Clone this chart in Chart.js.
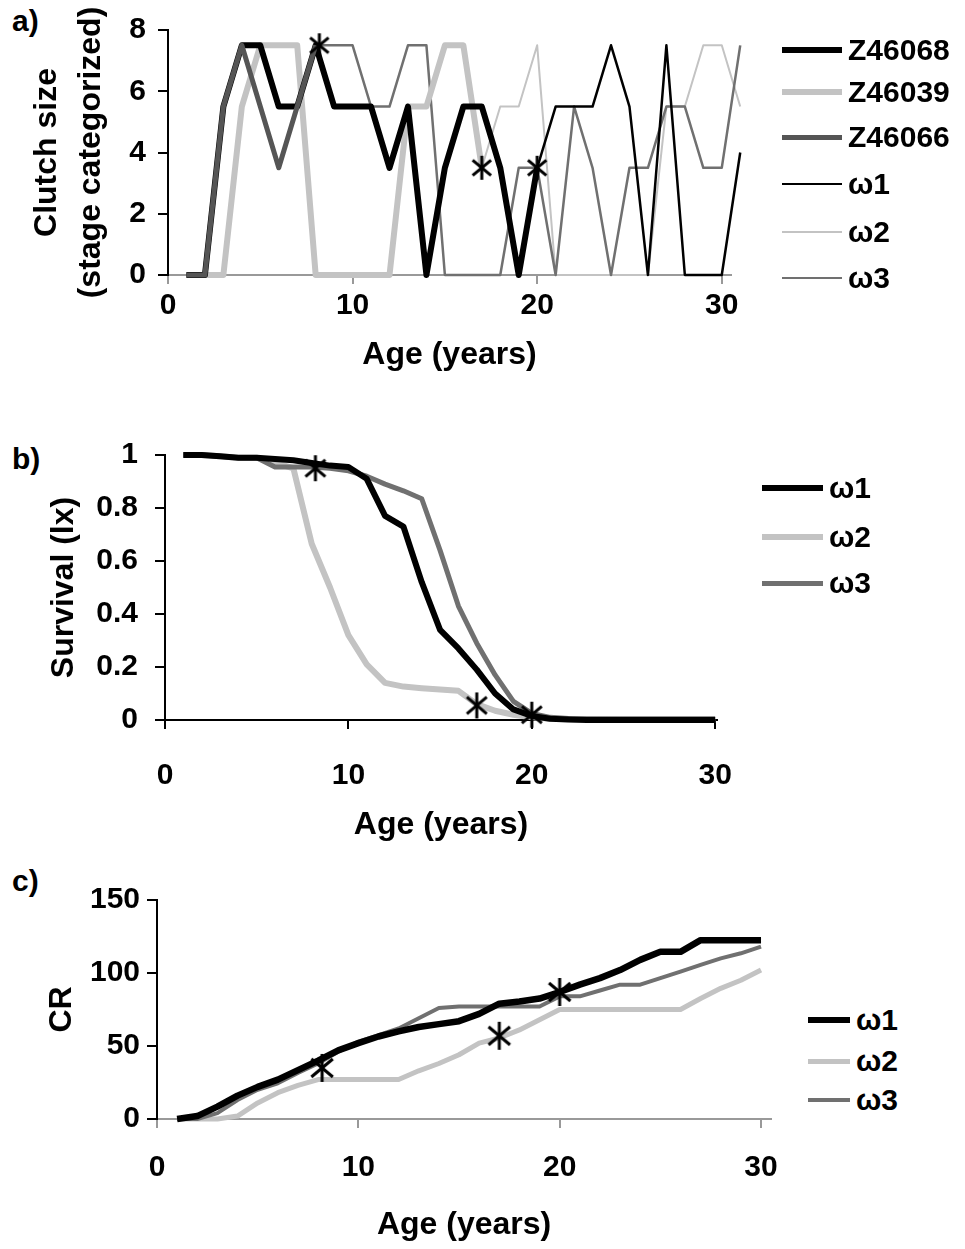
<!DOCTYPE html>
<html>
<head>
<meta charset="utf-8">
<script src="https://cdn.jsdelivr.net/npm/chart.js@4.4.1/dist/chart.umd.min.js"></script>
<style>
  body { margin: 0; background: #fff; width: 965px; height: 1249px; position: relative; overflow: hidden;
         font-family: "Liberation Sans", Arial, sans-serif; font-weight: bold; color: #000; }
  canvas { position: absolute; left: 0; }
  .tag { position: absolute; left: 12px; font-size: 30px; line-height: 30px; }
  .row { position: absolute; display: flex; align-items: center; font-size: 30px; line-height: 34px; white-space: nowrap; }
  .row span.line { display: inline-block; margin-right: 6px; }
</style>
</head>
<body>
<div class="tag" style="top:6px">a)</div>
<div class="tag" style="top:444px">b)</div>
<div class="tag" style="top:866px">c)</div>
<canvas id="chartA" width="800" height="385" style="top:0px"></canvas>
<canvas id="chartB" width="800" height="435" style="top:420px"></canvas>
<canvas id="chartC" width="800" height="379" style="top:870px"></canvas>
<div id="legendA"></div>
<div id="legendB"></div>
<div id="legendC"></div>
<script>
// ---- data ----
const xTicks = [0, 10, 20, 30];

// a) clutch size (stage categorized)
const agesA = [1, 2, 3, 4, 5, 6, 7, 8, 9, 10, 11, 12, 13, 14, 15, 16, 17, 18, 19, 20, 21, 22, 23, 24, 25, 26, 27, 28, 29, 30, 31];
const z46068 = [0, 0, 5.5, 7.5, 7.5, 5.5, 5.5, 7.5, 5.5, 5.5, 5.5, 3.5, 5.5, 0, 3.5, 5.5, 5.5, 3.5, 0, 3.5];
const z46039 = [0, 0, 0, 5.5, 7.5, 7.5, 7.5, 0, 0, 0, 0, 0, 5.5, 5.5, 7.5, 7.5, 3.5];
const z46066 = [0, 0, 5.5, 7.5, 5.5, 3.5, 5.5, 7.5];
const w1A = [0, 0, 5.5, 7.5, 7.5, 5.5, 5.5, 7.5, 5.5, 5.5, 5.5, 3.5, 5.5, 0, 3.5, 5.5, 5.5, 3.5, 0, 3.5, 5.5, 5.5, 5.5, 7.5, 5.5, 0, 7.5, 0, 0, 0, 4];
const w2A = [0, 0, 0, 5.5, 7.5, 7.5, 7.5, 0, 0, 0, 0, 0, 5.5, 5.5, 7.5, 7.5, 3.5, 5.5, 5.5, 7.5, 0, 0, 0, 0, 0, 0, 5.5, 5.5, 7.5, 7.5, 5.5];
const w3A = [0, 0, 5.5, 7.5, 5.5, 3.5, 5.5, 7.5, 7.5, 7.5, 5.5, 5.5, 7.5, 7.5, 0, 0, 0, 0, 3.5, 3.5, 0, 5.5, 3.5, 0, 3.5, 3.5, 5.5, 5.5, 3.5, 3.5, 7.5];
const yTicksA = [0, 2, 4, 6, 8];

// b) survival (lx)
const agesBC = [1, 2, 3, 4, 5, 6, 7, 8, 9, 10, 11, 12, 13, 14, 15, 16, 17, 18, 19, 20, 21, 22, 23, 24, 25, 26, 27, 28, 29, 30];
const w1B = [1, 1, 0.995, 0.99, 0.99, 0.985, 0.98, 0.97, 0.96, 0.955, 0.91, 0.77, 0.73, 0.52, 0.34, 0.27, 0.19, 0.1, 0.04, 0.015, 0.005, 0.002, 0, 0, 0, 0, 0, 0, 0, 0];
const w2B = [1, 1, 0.995, 0.99, 0.99, 0.97, 0.95, 0.665, 0.5, 0.32, 0.21, 0.14, 0.126, 0.12, 0.115, 0.11, 0.06, 0.035, 0.02, 0.01, 0.005, 0.003, 0.002, 0.001, 0, 0, 0, 0, 0, 0];
const w3B = [1, 1, 0.995, 0.99, 0.99, 0.955, 0.955, 0.955, 0.95, 0.94, 0.92, 0.89, 0.865, 0.835, 0.64, 0.43, 0.29, 0.17, 0.07, 0.025, 0.01, 0.006, 0.005, 0.005, 0.005, 0.005, 0.005, 0.005, 0.005, 0.005];
const yTicksB = [0, 0.2, 0.4, 0.6, 0.8, 1];

// c) CR
const w1C = [0, 2, 8.5, 16, 22, 27, 33.5, 40, 47, 52, 56.5, 60, 63, 65, 67, 72, 79, 80.5, 82.5, 87, 92, 96.5, 102, 109, 114.5, 114.5, 122.5, 122.5, 122.5, 122.5];
const w2C = [0, 0, 0, 2, 11, 18, 23, 27, 27, 27, 27, 27, 33, 38, 44, 52, 55.5, 61, 68, 75, 75, 75, 75, 75, 75, 75, 82.5, 89.5, 95, 102];
const w3C = [0, 0, 4, 13, 20, 24.5, 31.5, 38, 46, 53, 57.5, 62, 69, 76, 77, 77, 77, 77, 77, 84, 84, 88, 92, 92, 96.5, 101, 105.5, 110, 113.5, 118];
const yTicksC = [0, 50, 100, 150];

// asterisks (age at death of the observed females)
const deathAges = [8.2, 17, 20];
const deathA = [7.5, 3.5, 3.5];
const deathB = [0.95, 0.055, 0.02];
const deathC = [35, 57, 87];

// ---- helpers ----
const BLACK = '#000000', LIGHT = '#c3c3c3', DARK = '#555555', MID = '#707070';
const tickFont = {family: '"Liberation Sans", Arial, sans-serif', size: 30, weight: 'bold'};
const titleFont = {family: '"Liberation Sans", Arial, sans-serif', size: 32, weight: 'bold', lineHeight: 1.375};

function pts(xs, ys) {
  return ys.map((y, i) => ({x: xs[i], y: y}));
}

function asterisk(size, lw) {
  const c = document.createElement('canvas');
  c.width = size; c.height = size;
  const g = c.getContext('2d');
  g.strokeStyle = '#000';
  g.lineWidth = lw;
  const m = size / 2, r = size / 2 - 1;
  [90, 40, 140].forEach(a => {
    const t = a * Math.PI / 180;
    g.beginPath();
    g.moveTo(m - r * Math.cos(t), m - r * Math.sin(t));
    g.lineTo(m + r * Math.cos(t), m + r * Math.sin(t));
    g.stroke();
  });
  return c;
}

function line(label, xs, ys, color, width) {
  return {
    label: label, data: pts(xs, ys), borderColor: color, backgroundColor: color,
    borderWidth: width, pointRadius: 0, tension: 0, borderJoinStyle: 'round', clip: false
  };
}

function stars(ys, size) {
  return {
    label: '', data: pts(deathAges, ys), showLine: false, pointStyle: asterisk(size, 3),
    pointRadius: size / 2, clip: false, legendHidden: true
  };
}

function makeChart(id, datasets, o) {
  return new Chart(document.getElementById(id), {
    type: 'line',
    data: {datasets: datasets},
    options: {
      responsive: false, animation: false, events: [],
      layout: {padding: {left: 0, top: o.padTop, right: o.padRight, bottom: 0}},
      plugins: {legend: {display: false}, tooltip: {enabled: false}},
      scales: {
        x: {
          type: 'linear', min: 0, max: o.xMax,
          afterFit: s => { s.height = o.xHeight; },
          afterBuildTicks: s => { s.ticks = xTicks.map(v => ({value: v})); },
          border: {display: true, color: o.xColor, width: 2},
          grid: {display: true, drawOnChartArea: false, drawTicks: true, tickLength: 9, color: o.xColor, lineWidth: 2},
          ticks: {color: '#000', font: tickFont, padding: o.xPad, maxRotation: 0, autoSkip: false,
                  callback: v => String(v)},
          title: {display: true, text: 'Age (years)', color: '#000', font: titleFont, padding: {top: 0, bottom: o.xTitlePad}}
        },
        y: {
          type: 'linear', min: o.yTicks[0], max: o.yTicks[o.yTicks.length - 1],
          afterFit: s => { s.width = o.yWidth; },
          afterBuildTicks: s => { s.ticks = o.yTicks.map(v => ({value: v})); },
          border: {display: true, color: '#000', width: 2},
          grid: {display: true, drawOnChartArea: false, drawTicks: true, tickLength: 10, color: '#000', lineWidth: 2},
          ticks: {color: '#000', font: tickFont, padding: o.yPad, autoSkip: false,
                  callback: v => String(v)},
          title: {display: true, text: o.yTitle, color: '#000', font: titleFont, padding: {top: o.yTitlePad, bottom: 0}}
        }
      }
    }
  });
}

function legend(id, chart, rows, lineLeft, lineLen) {
  const box = document.getElementById(id);
  const sets = chart.data.datasets.filter(d => !d.legendHidden);
  rows.forEach(r => {
    const d = sets.find(s => s.label === r.label);
    const div = document.createElement('div');
    div.className = 'row';
    div.style.left = lineLeft + 'px';
    div.style.top = (r.y - 17) + 'px';
    const sw = document.createElement('span');
    sw.className = 'line';
    sw.style.width = lineLen + 'px';
    sw.style.height = d.borderWidth + 'px';
    sw.style.background = d.borderColor;
    div.appendChild(sw);
    div.appendChild(document.createTextNode(d.label));
    box.appendChild(div);
  });
}

// ---- a) ----
const chartA = makeChart('chartA', [
  stars(deathA, 26),
  line('Z46066', agesA, z46066, DARK, 5),
  line('Z46068', agesA, z46068, BLACK, 6),
  line('Z46039', agesA, z46039, LIGHT, 6),
  line('ω1', agesA, w1A, BLACK, 2.5),
  line('ω3', agesA, w3A, MID, 2.5),
  line('ω2', agesA, w2A, LIGHT, 2)
], {padTop: 23, padRight: 69, xMax: 30.5, xHeight: 110, xColor: '#999999', xPad: 4, xTitlePad: 8,
    yTicks: yTicksA, yWidth: 168, yPad: 12, yTitle: ['Clutch size', '(stage categorized)'], yTitlePad: 25});

legend('legendA', chartA, [
  {label: 'Z46068', y: 50}, {label: 'Z46039', y: 92}, {label: 'Z46066', y: 137},
  {label: 'ω1', y: 184}, {label: 'ω2', y: 232}, {label: 'ω3', y: 278}
], 782, 60);

// ---- b) ----
const chartB = makeChart('chartB', [
  stars(deathB, 28),
  line('ω1', agesBC, w1B, BLACK, 6),
  line('ω3', agesBC, w3B, MID, 5),
  line('ω2', agesBC, w2B, LIGHT, 6)
], {padTop: 22, padRight: 83, xMax: 30.1, xHeight: 135, xColor: '#000000', xPad: 29, xTitlePad: 8,
    yTicks: yTicksB, yWidth: 165, yPad: 17, yTitle: 'Survival (lx)', yTitlePad: 42});

legend('legendB', chartB, [
  {label: 'ω1', y: 488}, {label: 'ω2', y: 537}, {label: 'ω3', y: 583}
], 762, 61);

// ---- c) ----
const chartC = makeChart('chartC', [
  stars(deathC, 30),
  line('ω1', agesBC, w1C, BLACK, 6.5),
  line('ω3', agesBC, w3C, MID, 4),
  line('ω2', agesBC, w2C, LIGHT, 5)
], {padTop: 30, padRight: 18, xMax: 30.5, xHeight: 130, xColor: '#999999', xPad: 22, xTitlePad: 2,
    yTicks: yTicksC, yWidth: 157, yPad: 7, yTitle: 'CR', yTitlePad: 40});

legend('legendC', chartC, [
  {label: 'ω1', y: 1020}, {label: 'ω2', y: 1061}, {label: 'ω3', y: 1100}
], 808, 42);
</script>
</body>
</html>
